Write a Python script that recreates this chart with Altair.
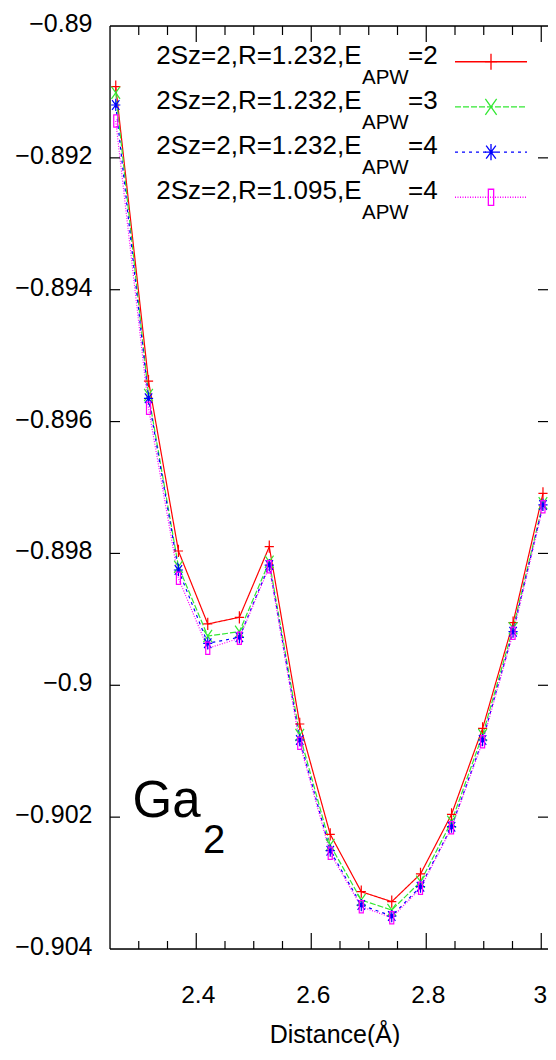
import altair as alt
import pandas as pd

# ---------------- data ----------------
distance = [2.260, 2.317, 2.369, 2.420, 2.475, 2.527, 2.580, 2.633,
            2.687, 2.740, 2.790, 2.844, 2.898, 2.951, 3.003]

e_r1232_apw2 = [-0.890921, -0.895385, -0.897963, -0.899070, -0.898969,
                -0.897898, -0.900587, -0.902260, -0.903131, -0.903282,
                -0.902862, -0.901957, -0.900653, -0.899051, -0.897088]
e_r1232_apw3 = [-0.891012, -0.895597, -0.898201, -0.899252, -0.899187,
                -0.898125, -0.900754, -0.902423, -0.903257, -0.903409,
                -0.902979, -0.902069, -0.900754, -0.899136, -0.897240]
e_r1232_apw4 = [-0.891198, -0.895647, -0.898251, -0.899363, -0.899272,
                -0.898176, -0.900830, -0.902509, -0.903333, -0.903500,
                -0.903055, -0.902145, -0.900830, -0.899187, -0.897265]
e_r1095_apw4 = [-0.891441, -0.895799, -0.898377, -0.899439, -0.899287,
                -0.898201, -0.900880, -0.902549, -0.903358, -0.903525,
                -0.903079, -0.902160, -0.900856, -0.899212, -0.897291]

series_keys = ["s1", "s2", "s3", "s4"]
legend_main = ["2Sz=2,R=1.232,E", "2Sz=2,R=1.232,E",
               "2Sz=2,R=1.232,E", "2Sz=2,R=1.095,E"]
legend_sub = ["APW", "APW", "APW", "APW"]
legend_suffix = ["=2", "=3", "=4", "=4"]

x_major_ticks = [2.4, 2.6, 2.8, 3.0]
x_major_labels = ["2.4", "2.6", "2.8", "3"]
x_minor_ticks = [2.3, 2.35, 2.45, 2.5, 2.55, 2.65, 2.7, 2.75, 2.85, 2.9, 2.95]
y_ticks = [-0.904, -0.902, -0.9, -0.898, -0.896, -0.894, -0.892, -0.89]
y_labels = ["\u22120.904", "\u22120.902", "\u22120.9", "\u22120.898",
            "\u22120.896", "\u22120.894", "\u22120.892", "\u22120.89"]

x_title = "Distance(Å)"
molecule = "Ga"
molecule_sub = "2"

# ---------------- styles ----------------
colors = ["#ff0000", "#33e833", "#0000ff", "#ff00ff"]
dashes = [[1, 0], [6, 2], [3, 4], [1, 1.5]]
shapes = [
    "M-0.75,0L0.75,0M0,-1L0,1",
    "M-0.7,-1L0.7,1M-0.7,1L0.7,-1",
    "M-0.75,0L0.75,0M0,-1L0,1M-0.6,-0.8L0.6,0.8M-0.6,0.8L0.6,-0.8",
    "M-0.33,-1L0.33,-1L0.33,1L-0.33,1Z",
]
FONT = "Liberation Sans, Arial, sans-serif"

W, H = 438, 923
PX_PER_UNIT = 575.0
x_scale = alt.Scale(domain=[2.25, 2.25 + W / PX_PER_UNIT], nice=False, zero=False)
y_scale = alt.Scale(domain=[-0.904, -0.89], nice=False, zero=False)

rows = []
for key, vals in zip(series_keys, [e_r1232_apw2, e_r1232_apw3, e_r1232_apw4, e_r1095_apw4]):
    for d, e in zip(distance, vals):
        rows.append({"distance": d, "energy": e, "series": key})
df = pd.DataFrame(rows)

X = alt.X("distance:Q", scale=x_scale, axis=None)
Y = alt.Y("energy:Q", scale=y_scale, axis=None)
color_enc = alt.Color("series:N", scale=alt.Scale(domain=series_keys, range=colors), legend=None)

lines = alt.Chart(df).mark_line(strokeWidth=1.2, clip=True).encode(
    x=X, y=Y, color=color_enc,
    strokeDash=alt.StrokeDash("series:N", scale=alt.Scale(domain=series_keys, range=dashes), legend=None),
    detail="series:N",
)

points = alt.Chart(df).mark_point(filled=False, strokeWidth=1.2, size=150, opacity=1).encode(
    x=X, y=Y, color=color_enc,
    shape=alt.Shape("series:N", scale=alt.Scale(domain=series_keys, range=shapes), legend=None),
)

# ---------------- frame, inward ticks and tick labels (via the scales) ----------------
def xticks(values, length, top):
    d = pd.DataFrame({"v": values})
    if top:
        enc = dict(y=alt.value(0), y2=alt.value(length))
    else:
        enc = dict(y=alt.value(H), y2=alt.value(H - length))
    return alt.Chart(d).mark_rule(color="black", strokeWidth=1.2).encode(
        x=alt.X("v:Q", scale=x_scale, axis=None), **enc)

def yticks(values, length, right):
    d = pd.DataFrame({"v": values})
    if right:
        enc = dict(x=alt.value(W - length), x2=alt.value(W))
    else:
        enc = dict(x=alt.value(0), x2=alt.value(length))
    return alt.Chart(d).mark_rule(color="black", strokeWidth=1.2).encode(
        y=alt.Y("v:Q", scale=y_scale, axis=None), **enc)

tick_layers = [
    xticks(x_major_ticks, 16, False), xticks(x_minor_ticks, 8, False),
    xticks(x_major_ticks, 16, True), xticks(x_minor_ticks, 9, True),
    yticks(y_ticks[1:-1], 10, False), yticks(y_ticks[1:-1], 10, True),
]

one = pd.DataFrame({"a": [0]})
frame = [
    alt.Chart(one).mark_rule(color="black", strokeWidth=1.3).encode(
        x=alt.value(0), x2=alt.value(W), y=alt.value(0)),
    alt.Chart(one).mark_rule(color="black", strokeWidth=1.3).encode(
        x=alt.value(0), x2=alt.value(W), y=alt.value(H)),
    alt.Chart(one).mark_rule(color="black", strokeWidth=1.3).encode(
        x=alt.value(0), y=alt.value(0), y2=alt.value(H)),
]

y_label_layer = alt.Chart(pd.DataFrame({"v": y_ticks, "t": y_labels})).mark_text(
    align="right", baseline="middle", font=FONT, fontSize=25, color="black", dy=-2
).encode(y=alt.Y("v:Q", scale=y_scale, axis=None), x=alt.value(-17.5), text="t:N")

x_label_layer = alt.Chart(pd.DataFrame({"v": x_major_ticks[:-1], "t": x_major_labels[:-1]})).mark_text(
    align="center", baseline="middle", font=FONT, fontSize=24.5, color="black", dx=2
).encode(x=alt.X("v:Q", scale=x_scale, axis=None), y=alt.value(970), text="t:N")

# the last label sits at the right edge of the picture: keep it inside
x_label_last = alt.Chart(pd.DataFrame({"v": x_major_ticks[-1:], "t": x_major_labels[-1:]})).mark_text(
    align="right", baseline="middle", font=FONT, fontSize=24.5, color="black", dx=6
).encode(x=alt.X("v:Q", scale=x_scale, axis=None), y=alt.value(970), text="t:N")

x_title_layer = alt.Chart(pd.DataFrame({"t": [x_title]})).mark_text(
    align="center", baseline="middle", font=FONT, fontSize=25, color="black"
).encode(x=alt.value(225), y=alt.value(1009), text="t:N")

# ---------------- legend (manual, with subscripts) ----------------
legend_layers = []
row0, step = 35.7, 45.2
for i in range(4):
    yc = row0 + i * step
    legend_layers.append(
        alt.Chart(pd.DataFrame({"t": [legend_main[i]]})).mark_text(
            align="right", baseline="middle", font=FONT, fontSize=26, color="black"
        ).encode(x=alt.value(251.5), y=alt.value(yc - 6), text="t:N"))
    legend_layers.append(
        alt.Chart(pd.DataFrame({"t": [legend_sub[i]]})).mark_text(
            align="left", baseline="middle", font=FONT, fontSize=20.5, color="black"
        ).encode(x=alt.value(252), y=alt.value(yc + 16), text="t:N"))
    legend_layers.append(
        alt.Chart(pd.DataFrame({"t": [legend_suffix[i]]})).mark_text(
            align="left", baseline="middle", font=FONT, fontSize=26, color="black"
        ).encode(x=alt.value(298), y=alt.value(yc - 6), text="t:N"))
    legend_layers.append(
        alt.Chart(pd.DataFrame({"t": [legend_main[i]]})).mark_rule(
            color=colors[i], strokeDash=dashes[i], strokeWidth=1.4
        ).encode(x=alt.value(345), x2=alt.value(417), y=alt.value(yc)))
    legend_layers.append(
        alt.Chart(pd.DataFrame({"t": [legend_main[i]]})).mark_point(
            shape=shapes[i], size=260, filled=False, color=colors[i], strokeWidth=1.3, opacity=1
        ).encode(x=alt.value(381), y=alt.value(yc)))

mol = alt.Chart(pd.DataFrame({"t": [molecule]})).mark_text(
    align="left", baseline="middle", font=FONT, fontSize=51, color="black"
).encode(x=alt.value(22.5), y=alt.value(775.5), text="t:N")
mol_sub = alt.Chart(pd.DataFrame({"t": [molecule_sub]})).mark_text(
    align="left", baseline="middle", font=FONT, fontSize=40, color="black"
).encode(x=alt.value(93), y=alt.value(815), text="t:N")

chart = alt.layer(
    lines, points, *tick_layers, *frame, y_label_layer, x_label_layer, x_label_last,
    x_title_layer, *legend_layers, mol, mol_sub
).properties(
    width=W, height=H,
    autosize=alt.AutoSizeParams(type="none"),
    padding={"left": 102, "top": 18, "right": 0, "bottom": 98},
).configure_view(stroke=None).configure(background="white")

chart.save("out.html", embed_options={"renderer": "svg", "actions": False})
